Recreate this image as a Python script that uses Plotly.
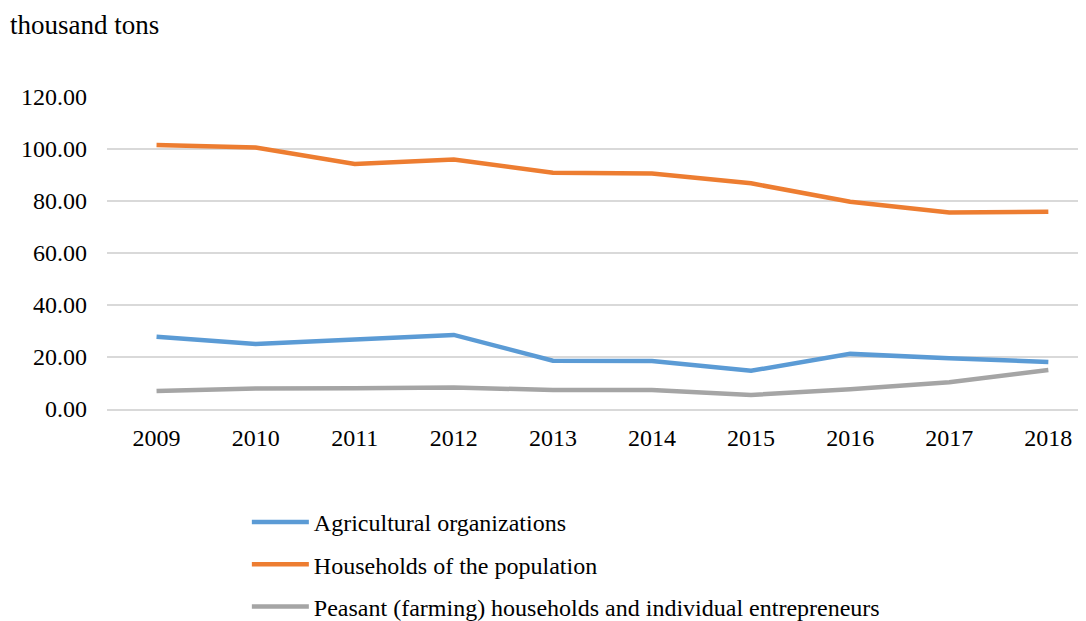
import plotly.graph_objects as go

years = [2009, 2010, 2011, 2012, 2013, 2014, 2015, 2016, 2017, 2018]
agricultural = [27.8, 25.0, 26.7, 28.5, 18.6, 18.5, 14.7, 21.2, 19.5, 18.1]
households = [101.5, 100.6, 94.2, 96.0, 90.9, 90.6, 86.8, 79.7, 75.6, 75.9]
peasant = [6.9, 7.9, 8.0, 8.3, 7.3, 7.3, 5.4, 7.6, 10.3, 15.0]

names = ["Agricultural organizations", "Households of the population",
         "Peasant (farming) households and individual entrepreneurs"]
colors = ["#5b9bd5", "#ed7d31", "#a5a5a5"]

fig = go.Figure()
for i, (vals, name, col) in enumerate(zip([agricultural, households, peasant], names, colors)):
    fig.add_trace(go.Scatter(x=years, y=vals, mode="lines", name=name,
                             legendgroup=f"g{i}",
                             line=dict(color=col, width=4.5)))

font = "Liberation Serif, Times New Roman, serif"
fs = 24
fig.update_layout(
    width=1086, height=621,
    margin=dict(l=99, r=9, t=89, b=220),
    plot_bgcolor="white", paper_bgcolor="white",
    font=dict(family=font, size=fs, color="#000000"),
    showlegend=True,
    legend=dict(x=0.143, y=0.0, xanchor="left", yanchor="bottom", yref="container",
                orientation="v", tracegroupgap=8, itemwidth=57,
                font=dict(family=font, size=fs, color="#000000")),
    xaxis=dict(range=[2008.5, 2018.37], tickmode="array", tickvals=years,
               ticktext=[str(y) for y in years], showgrid=False,
               showline=True, linecolor="#d9d9d9", linewidth=1.5,
               ticks="", tickfont=dict(family=font, size=fs), ticklabelstandoff=6),
    yaxis=dict(range=[0, 120], tickmode="array", tickvals=[0, 20, 40, 60, 80, 100, 120],
               tickformat=".2f", showgrid=True, gridcolor="#d9d9d9", gridwidth=1.5,
               zeroline=False, showline=False, ticks="",
               tickfont=dict(family=font, size=fs), ticklabelstandoff=19),
    annotations=[dict(text="thousand tons", xref="paper", yref="paper",
                      x=-99/978, y=(621 - 220 - 17) / 312, xanchor="left", yanchor="middle",
                      xshift=0, showarrow=False, font=dict(family=font, size=27))],
)
fig.write_html("out.html")
